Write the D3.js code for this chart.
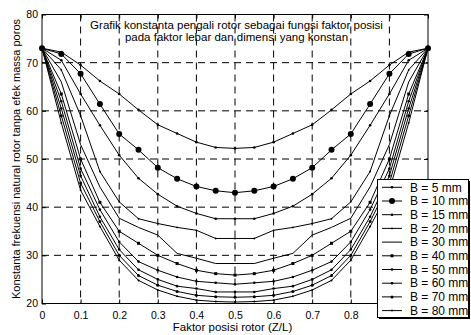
<!DOCTYPE html>
<html>
<head>
<meta charset="utf-8">
<script src="https://cdn.jsdelivr.net/npm/d3@7"></script>
<style>
body { margin: 0; background: #fff; }
text { font-family: "Liberation Sans", Arial, sans-serif; fill: #000; }
</style>
</head>
<body>
<div class="container"></div>
<script>
// posisi rotor Z/L
var posisi = [0, 0.05, 0.1, 0.15, 0.2, 0.25, 0.3, 0.35, 0.4, 0.45, 0.5, 0.55, 0.6, 0.65, 0.7, 0.75, 0.8, 0.85, 0.9, 0.95, 1];
var namaSeri = ['B = 5 mm', 'B = 10 mm', 'B = 15 mm', 'B = 20 mm', 'B = 30 mm', 'B = 40 mm', 'B = 50 mm', 'B = 60 mm', 'B = 70 mm', 'B = 80 mm'];

var b5  = [73, 72.2, 69.5, 66.2, 63.5, 60.2, 57.1, 55.3, 53.5, 52.4, 52.2, 52.4, 53.5, 55.3, 57.1, 60.2, 63.5, 66.2, 69.5, 72.2, 73];
var b10 = [73, 71.8, 67.7, 61.4, 55.2, 51.9, 48.2, 45.9, 44.3, 43.4, 43.0, 43.4, 44.3, 45.9, 48.2, 51.9, 55.2, 61.4, 67.7, 71.8, 73];
var b15 = [73, 70.5, 63.5, 57.0, 50.8, 46.0, 42.7, 40.2, 38.7, 37.6, 37.6, 37.6, 38.7, 40.2, 42.7, 46.0, 50.8, 57.0, 63.5, 70.5, 73];
var b20 = [73, 68.5, 59.0, 47.4, 41.1, 37.6, 36.6, 35.8, 35.2, 33.5, 33.5, 33.5, 35.2, 35.8, 36.6, 37.6, 41.1, 47.4, 59.0, 68.5, 73];
var b30 = [73, 66.0, 53.0, 44.2, 37.7, 35.8, 34.2, 30.4, 29.4, 28.3, 28.3, 28.3, 29.4, 30.4, 34.2, 35.8, 37.7, 44.2, 53.0, 66.0, 73];
var b40 = [73, 63.5, 50.0, 41.0, 35.0, 32.5, 30.0, 28.3, 26.9, 26.2, 25.9, 26.2, 26.9, 28.3, 30.0, 32.5, 35.0, 41.0, 50.0, 63.5, 73];
var b50 = [73, 62.0, 48.0, 39.5, 32.8, 28.7, 26.9, 25.5, 24.6, 24.3, 24.0, 24.3, 24.6, 25.5, 26.9, 28.7, 32.8, 39.5, 48.0, 62.0, 73];
var b60 = [73, 60.5, 46.5, 38.0, 31.2, 27.0, 25.0, 23.6, 23.1, 22.4, 22.4, 22.4, 23.1, 23.6, 25.0, 27.0, 31.2, 38.0, 46.5, 60.5, 73];
var b70 = [73, 59.0, 45.0, 37.0, 30.0, 25.8, 23.8, 22.5, 21.7, 21.4, 21.3, 21.4, 21.7, 22.5, 23.8, 25.8, 30.0, 37.0, 45.0, 59.0, 73];
var b80 = [73, 57.5, 43.5, 36.0, 29.0, 24.8, 22.8, 21.5, 20.7, 20.4, 20.3, 20.4, 20.7, 21.5, 22.8, 24.8, 29.0, 36.0, 43.5, 57.5, 73];

var xTicks = [0, 0.1, 0.2, 0.3, 0.4, 0.5, 0.6, 0.7, 0.8, 0.9, 1];
var yTicks = [20, 30, 40, 50, 60, 70, 80];

var seri = [b5, b10, b15, b20, b30, b40, b50, b60, b70, b80];
// jenis penanda tiap garis (radius lingkaran, atau 'kotak')
var penanda = [1.3, 3, 1.3, 0.9, 0, 'kotak', 1.3, 1.3, 1.5, 1];

var svg = d3.select('.container')
    .append('svg')
    .attr('width', 471)
    .attr('height', 335);

var x = d3.scaleLinear().domain([0, 1]).range([42, 428]);
var y = d3.scaleLinear().domain([20, 80]).range([303.5, 14.5]);

// grid putus-putus
svg.selectAll('.gx')
    .data(xTicks.slice(1, -1))
    .enter()
    .append('line')
    .attr('x1', d => x(d))
    .attr('x2', d => x(d))
    .attr('y1', y(80))
    .attr('y2', y(20))
    .style('stroke', '#000')
    .style('stroke-width', 1)
    .style('stroke-dasharray', '7,5');

svg.selectAll('.gy')
    .data(yTicks.slice(1, -1))
    .enter()
    .append('line')
    .attr('x1', x(0))
    .attr('x2', x(1))
    .attr('y1', d => y(d))
    .attr('y2', d => y(d))
    .style('stroke', '#000')
    .style('stroke-width', 1)
    .style('stroke-dasharray', '7,5');

// sumbu (label 0.9 dan 1 tertutup legenda)
var ax = svg.append('g').attr('transform', 'translate(0,' + y(20) + ')')
    .call(d3.axisBottom(x).tickValues(xTicks).tickSize(-4).tickPadding(8)
        .tickFormat(d => d < 0.85 ? d3.format('')(d) : ''));
var ay = svg.append('g').attr('transform', 'translate(' + x(0) + ',0)')
    .call(d3.axisLeft(y).tickValues(yTicks).tickSize(-4).tickPadding(4));
var at = svg.append('g').attr('transform', 'translate(0,' + y(80) + ')')
    .call(d3.axisTop(x).tickValues(xTicks).tickSize(-4).tickFormat(''));
var ar = svg.append('g').attr('transform', 'translate(' + x(1) + ',0)')
    .call(d3.axisRight(y).tickValues(yTicks).tickSize(-4).tickFormat(''));

svg.selectAll('.domain').remove();
svg.selectAll('.tick text').style('font-size', '10.5px').style('font-family', '"Liberation Sans", Arial, sans-serif');
svg.selectAll('.tick line').style('stroke', '#000');

svg.append('rect')
    .attr('x', x(0))
    .attr('y', y(80))
    .attr('width', x(1) - x(0))
    .attr('height', y(20) - y(80))
    .style('fill', 'none')
    .style('stroke', '#000')
    .style('stroke-width', 1);

// garis data
var garis = d3.line()
    .x((d, i) => x(posisi[i]))
    .y(d => y(d));

svg.selectAll('.seri')
    .data(seri)
    .enter()
    .append('path')
    .attr('d', d => garis(d))
    .style('fill', 'none')
    .style('stroke', '#000')
    .style('stroke-width', 1);

seri.forEach(function(s, k) {
    var p = penanda[k];
    if (p === 0) return;
    if (p === 'kotak') {
        svg.selectAll('.k' + k)
            .data(s)
            .enter()
            .append('rect')
            .attr('x', (d, i) => x(posisi[i]) - 1.5)
            .attr('y', d => y(d) - 1.5)
            .attr('width', 3)
            .attr('height', 3)
            .style('fill', '#000');
    } else {
        svg.selectAll('.k' + k)
            .data(s)
            .enter()
            .append('circle')
            .attr('cx', (d, i) => x(posisi[i]))
            .attr('cy', d => y(d))
            .attr('r', p)
            .style('fill', '#000');
    }
});

// judul di dalam grafik
svg.append('text')
    .attr('x', 236.5)
    .attr('y', 29)
    .attr('text-anchor', 'middle')
    .style('font-size', '11.5px')
    .text('Grafik konstanta pengali rotor sebagai fungsi faktor posisi');
svg.append('text')
    .attr('x', 236.5)
    .attr('y', 41)
    .attr('text-anchor', 'middle')
    .style('font-size', '11.5px')
    .text('pada faktor lebar dan dimensi yang konstan');

svg.append('text')
    .attr('x', 232.5)
    .attr('y', 331)
    .attr('text-anchor', 'middle')
    .style('font-size', '11.5px')
    .text('Faktor posisi rotor  (Z/L)');

svg.append('text')
    .attr('transform', 'translate(20,159) rotate(-90)')
    .attr('text-anchor', 'middle')
    .style('font-size', '11px')
    .text('Konstanta frekuensi natural rotor tanpa efek massa poros');

// legenda
svg.append('rect')
    .attr('x', 379)
    .attr('y', 181)
    .attr('width', 91)
    .attr('height', 138)
    .style('fill', '#000');
svg.append('rect')
    .attr('x', 377.5)
    .attr('y', 179.5)
    .attr('width', 91)
    .attr('height', 138)
    .style('fill', '#fff')
    .style('stroke', '#000')
    .style('stroke-width', 1);

var leg = svg.selectAll('.leg')
    .data(namaSeri)
    .enter()
    .append('g')
    .attr('transform', (d, i) => 'translate(0,' + (187.3 + i * 13.7) + ')');

leg.append('line')
    .attr('x1', 382)
    .attr('x2', 402)
    .attr('y1', 0)
    .attr('y2', 0)
    .style('stroke', '#000')
    .style('stroke-width', 1);

leg.each(function(d, i) {
    var p = penanda[i];
    var g = d3.select(this);
    if (p === 0) return;
    if (p === 'kotak') {
        g.append('rect').attr('x', 390.5).attr('y', -1.5).attr('width', 3).attr('height', 3).style('fill', '#000');
    } else {
        g.append('circle').attr('cx', 392).attr('cy', 0).attr('r', p).style('fill', '#000');
    }
});

leg.append('text')
    .attr('x', 410)
    .attr('y', 4.2)
    .style('font-size', '12px')
    .text(d => d);
</script>
</body>
</html>
